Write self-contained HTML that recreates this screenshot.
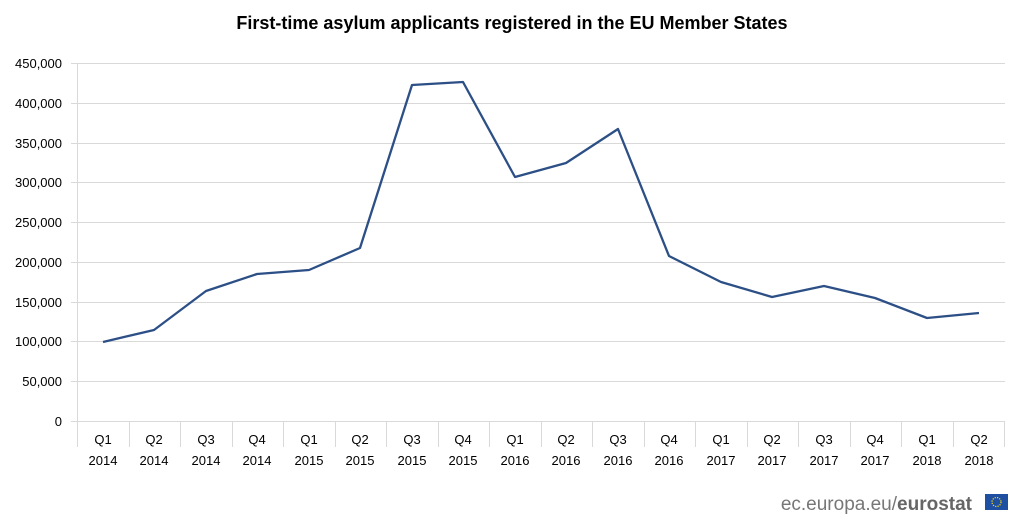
<!DOCTYPE html>
<html><head><meta charset="utf-8"><style>body{margin:0;background:#fff}svg{display:block}</style></head><body>
<svg width="1024" height="527" xmlns="http://www.w3.org/2000/svg" font-family="Liberation Sans, sans-serif">
<rect width="1024" height="527" fill="#fff"/>
<text x="512" y="29" text-anchor="middle" font-size="18" font-weight="bold" fill="#000">First-time asylum applicants registered in the EU Member States</text>
<g stroke="#d9d9d9" stroke-width="1">
<line x1="71" x2="1005" y1="63.5" y2="63.5"/><line x1="71" x2="1005" y1="103.5" y2="103.5"/><line x1="71" x2="1005" y1="143.5" y2="143.5"/><line x1="71" x2="1005" y1="182.5" y2="182.5"/><line x1="71" x2="1005" y1="222.5" y2="222.5"/><line x1="71" x2="1005" y1="262.5" y2="262.5"/><line x1="71" x2="1005" y1="302.5" y2="302.5"/><line x1="71" x2="1005" y1="341.5" y2="341.5"/><line x1="71" x2="1005" y1="381.5" y2="381.5"/>
<line x1="71" x2="1005" y1="421.5" y2="421.5"/>
<line x1="77.5" x2="77.5" y1="63" y2="421"/>
</g>
<g stroke="#d9d9d9" id="t"></g>
<g font-size="13" fill="#000" text-anchor="end">
<text x="62" y="68">450,000</text><text x="62" y="108">400,000</text><text x="62" y="148">350,000</text><text x="62" y="187">300,000</text><text x="62" y="227">250,000</text><text x="62" y="267">200,000</text><text x="62" y="307">150,000</text><text x="62" y="346">100,000</text><text x="62" y="386">50,000</text><text x="62" y="426">0</text>
</g>
<g stroke="#d9d9d9">
<line x1="77.5" x2="77.5" y1="421" y2="447"/><line x1="129.5" x2="129.5" y1="421" y2="447"/><line x1="180.5" x2="180.5" y1="421" y2="447"/><line x1="232.5" x2="232.5" y1="421" y2="447"/><line x1="283.5" x2="283.5" y1="421" y2="447"/><line x1="335.5" x2="335.5" y1="421" y2="447"/><line x1="386.5" x2="386.5" y1="421" y2="447"/><line x1="438.5" x2="438.5" y1="421" y2="447"/><line x1="489.5" x2="489.5" y1="421" y2="447"/><line x1="541.5" x2="541.5" y1="421" y2="447"/><line x1="592.5" x2="592.5" y1="421" y2="447"/><line x1="644.5" x2="644.5" y1="421" y2="447"/><line x1="695.5" x2="695.5" y1="421" y2="447"/><line x1="747.5" x2="747.5" y1="421" y2="447"/><line x1="798.5" x2="798.5" y1="421" y2="447"/><line x1="850.5" x2="850.5" y1="421" y2="447"/><line x1="901.5" x2="901.5" y1="421" y2="447"/><line x1="953.5" x2="953.5" y1="421" y2="447"/><line x1="1004.5" x2="1004.5" y1="421" y2="447"/>
</g>
<g font-size="13" fill="#000" text-anchor="middle">
<text x="103" y="444">Q1</text><text x="103" y="465">2014</text>
<text x="154" y="444">Q2</text><text x="154" y="465">2014</text>
<text x="206" y="444">Q3</text><text x="206" y="465">2014</text>
<text x="257" y="444">Q4</text><text x="257" y="465">2014</text>
<text x="309" y="444">Q1</text><text x="309" y="465">2015</text>
<text x="360" y="444">Q2</text><text x="360" y="465">2015</text>
<text x="412" y="444">Q3</text><text x="412" y="465">2015</text>
<text x="463" y="444">Q4</text><text x="463" y="465">2015</text>
<text x="515" y="444">Q1</text><text x="515" y="465">2016</text>
<text x="566" y="444">Q2</text><text x="566" y="465">2016</text>
<text x="618" y="444">Q3</text><text x="618" y="465">2016</text>
<text x="669" y="444">Q4</text><text x="669" y="465">2016</text>
<text x="721" y="444">Q1</text><text x="721" y="465">2017</text>
<text x="772" y="444">Q2</text><text x="772" y="465">2017</text>
<text x="824" y="444">Q3</text><text x="824" y="465">2017</text>
<text x="875" y="444">Q4</text><text x="875" y="465">2017</text>
<text x="927" y="444">Q1</text><text x="927" y="465">2018</text>
<text x="979" y="444">Q2</text><text x="979" y="465">2018</text>
</g>
<polyline fill="none" stroke="#2c4f86" stroke-width="2.3" stroke-linejoin="round" points="103,342 154,330 206,291 257,274 309,270 360,248 412,85 463,82 515,177 566,163 618,129 669,256 721,282 772,297 824,286 875,298 927,318 979,313"/>
<text x="972" y="510" text-anchor="end" font-size="19" fill="#777"><tspan>ec.europa.eu/</tspan><tspan font-weight="bold" fill="#666">eurostat</tspan></text>
<rect x="985" y="494" width="23" height="16" fill="#1f4fa0"/>
<circle cx="996.5" cy="502" r="4.5" fill="none" stroke="#ffdd00" stroke-width="1.2" stroke-dasharray="1.2 1.2"/>
</svg>
</body></html>
